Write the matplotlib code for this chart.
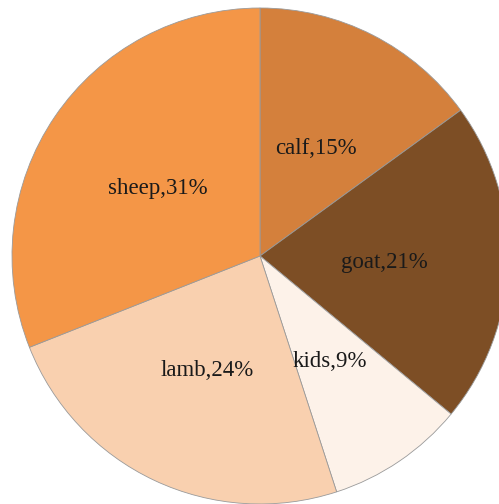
import matplotlib.pyplot as plt
import numpy as np

labels = ['calf', 'goat', 'kids', 'lamb', 'sheep']
values = [15, 21, 9, 24, 31]
colors = ['#D4803C', '#7D4E25', '#FDF2E9', '#F9D0AF', '#F49647']

fig = plt.figure(figsize=(4.99, 5.04), dpi=100)
ax = fig.add_axes([0, 0, 1, 1])

wedges, _ = ax.pie(values, colors=colors, startangle=90, counterclock=False,
                   radius=1.0, wedgeprops=dict(edgecolor='#9a9a9a', linewidth=0.6))

# labels at half radius, centered on each wedge
for w, lab, v in zip(wedges, labels, values):
    ang = np.deg2rad((w.theta1 + w.theta2) / 2)
    ax.text(0.5 * np.cos(ang), 0.5 * np.sin(ang), lab + ',' + str(v) + '%',
            ha='center', va='center_baseline', fontsize=16.5,
            family='Liberation Serif', color='#1a1a1a')

# pie center sits at pixel (260, 256), radius 248 px
ax.set_aspect('auto')
ax.set_xlim(-260 / 248, (499 - 260) / 248)
ax.set_ylim(-(504 - 256) / 248, 256 / 248)
ax.axis('off')

fig.savefig('out.png', dpi=100)
